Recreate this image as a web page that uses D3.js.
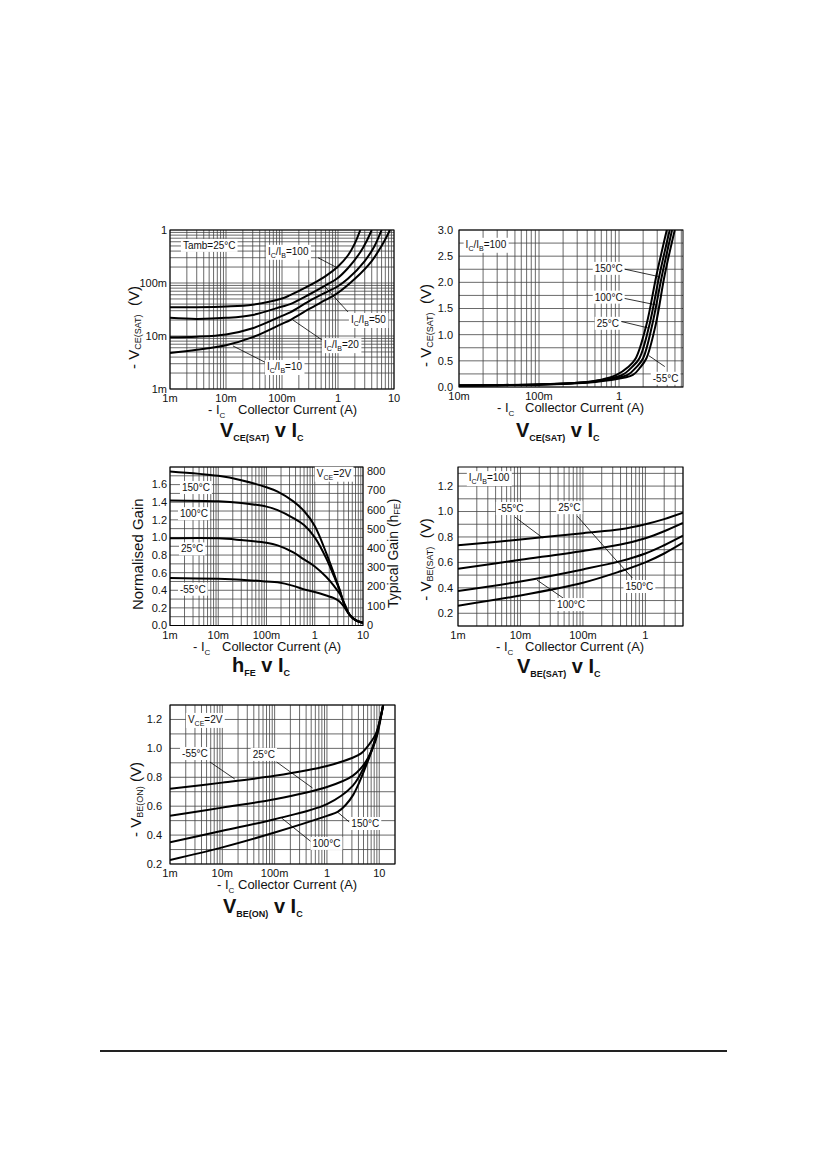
<!DOCTYPE html>
<html>
<head>
<meta charset="utf-8">
<script src="https://cdnjs.cloudflare.com/ajax/libs/d3/7.8.5/d3.min.js"></script>
<style>
  body { margin: 0; background: #fff; }
  svg text { font-family: "Liberation Sans", Arial, sans-serif; fill: #111; white-space: pre; }
</style>
</head>
<body>
<script>
/////////////////////////////////////////////////
// data  (x = -Ic in A)
/////////////////////////////////////////////////
// VCE(SAT) v IC, Tamb = 25C, one series per Ic/Ib
var vceR100 = [[0.001,0.035],[0.003,0.035],[0.01,0.036],[0.03,0.039],[0.1,0.051],[0.14,0.059],[0.3,0.088],[0.6,0.135],[1,0.205],[1.5,0.33],[2,0.56],[2.5,1.0]];
var vceR50  = [[0.001,0.022],[0.003,0.021],[0.01,0.022],[0.03,0.025],[0.1,0.036],[0.14,0.04],[0.3,0.06],[0.6,0.09],[0.95,0.12],[1.5,0.19],[2.5,0.38],[3.2,0.6],[4,1.0]];
var vceR20  = [[0.001,0.0095],[0.003,0.0097],[0.01,0.0107],[0.03,0.014],[0.1,0.024],[0.14,0.028],[0.3,0.045],[0.6,0.066],[0.95,0.084],[1.5,0.12],[3,0.26],[4.5,0.5],[6,1.0]];
var vceR10  = [[0.001,0.0048],[0.003,0.0055],[0.01,0.0067],[0.03,0.0095],[0.1,0.017],[0.14,0.02],[0.3,0.032],[0.6,0.048],[0.95,0.063],[2,0.12],[4,0.26],[6,0.5],[8.5,1.0]];

// VCE(SAT) v IC, Ic/Ib = 100, per temperature
var satT150 = [[0.01,0.03],[0.1,0.05],[0.3,0.08],[0.6,0.14],[0.93,0.23],[1.3,0.38],[1.62,0.55],[2.2,1.19],[2.94,2.14],[3.95,3.0]];
var satT100 = [[0.01,0.03],[0.1,0.05],[0.3,0.08],[0.65,0.14],[1.1,0.23],[1.45,0.38],[1.8,0.55],[2.4,1.19],[3.2,2.14],[4.3,3.0]];
var satT25  = [[0.01,0.03],[0.1,0.05],[0.3,0.075],[0.7,0.14],[1.28,0.23],[1.65,0.38],[2.0,0.55],[2.6,1.19],[3.45,2.14],[4.6,3.0]];
var satTm55 = [[0.01,0.03],[0.1,0.045],[0.3,0.07],[0.75,0.13],[1.49,0.23],[1.85,0.38],[2.2,0.55],[2.87,1.19],[3.72,2.14],[4.97,3.0]];

// hFE v IC, VCE = 2V (normalised gain)
var hfeT150 = [[0.001,1.75],[0.01,1.70],[0.03,1.65],[0.1,1.57],[0.17,1.52],[0.36,1.41],[0.6,1.30],[1,1.13],[1.74,0.82],[2.5,0.59],[3.3,0.40],[4.2,0.22],[5.3,0.12],[7,0.06],[10,0.03]];
var hfeT100 = [[0.001,1.42],[0.01,1.41],[0.03,1.39],[0.1,1.35],[0.17,1.31],[0.36,1.22],[0.6,1.14],[1,1.00],[1.74,0.76],[2.5,0.56],[3.3,0.40],[4.2,0.22],[5.3,0.12],[7,0.06],[10,0.03]];
var hfeT25  = [[0.001,0.99],[0.01,0.99],[0.03,0.97],[0.1,0.94],[0.17,0.91],[0.36,0.83],[0.6,0.75],[1,0.67],[1.74,0.55],[2.5,0.45],[3.3,0.36],[4.2,0.24],[5.3,0.12],[7,0.06],[10,0.03]];
var hfeTm55 = [[0.001,0.54],[0.01,0.53],[0.03,0.52],[0.1,0.50],[0.17,0.49],[0.36,0.45],[0.6,0.41],[1,0.38],[1.74,0.34],[2.5,0.31],[3.3,0.27],[4.2,0.2],[5.3,0.12],[7,0.06],[10,0.03]];

// VBE(SAT) v IC, Ic/Ib = 100
var vbsTm55 = [[0.001,0.735],[0.01,0.78],[0.1,0.83],[0.4,0.86],[1,0.90],[2,0.94],[4,0.99]];
var vbsT25  = [[0.001,0.55],[0.01,0.62],[0.1,0.69],[0.4,0.74],[1,0.79],[2,0.845],[4,0.91]];
var vbsT100 = [[0.001,0.375],[0.01,0.45],[0.1,0.545],[0.4,0.61],[1,0.67],[2,0.735],[4,0.81]];
var vbsT150 = [[0.001,0.26],[0.01,0.34],[0.1,0.44],[0.4,0.53],[1,0.60],[2,0.67],[4,0.755]];

// VBE(ON) v IC, VCE = 2V
var vboTm55 = [[0.001,0.72],[0.01,0.763],[0.1,0.81],[1,0.878],[3.1,0.935],[4.5,0.965],[5.6,1.0],[8.6,1.1],[10.7,1.22],[12,1.31]];
var vboT25  = [[0.001,0.533],[0.01,0.59],[0.1,0.648],[1,0.733],[3.1,0.81],[5.6,0.91],[8.6,1.07],[10.7,1.22],[12,1.31]];
var vboT100 = [[0.001,0.35],[0.01,0.43],[0.1,0.51],[1,0.614],[3.1,0.74],[5.6,0.9],[8.6,1.06],[10.7,1.21],[12,1.31]];
var vboT150 = [[0.001,0.228],[0.01,0.315],[0.1,0.418],[1,0.533],[1.6,0.56],[2.3,0.61],[3.2,0.68],[4.1,0.76],[5.6,0.88],[7.4,1.0],[10.7,1.22],[12,1.31]];

// tick labels
var xTicks4      = [0.001, 0.01, 0.1, 1, 10];
var xTickLbl4    = ["1m", "10m", "100m", "1", "10"];
var xTicks3      = [0.001, 0.01, 0.1, 1];
var xTickLbl3    = ["1m", "10m", "100m", "1"];
var xTicksSat    = [0.01, 0.1, 1];
var xTickLblSat  = ["10m", "100m", "1"];
var yTicksLog    = [0.001, 0.01, 0.1, 1];
var yTickLblLog  = ["1m", "10m", "100m", "1"];
var yTicksSat    = [0, 0.5, 1, 1.5, 2, 2.5, 3];
var yTickLblSat  = ["0.0", "0.5", "1.0", "1.5", "2.0", "2.5", "3.0"];
var yTicksNorm   = [0, 0.2, 0.4, 0.6, 0.8, 1.0, 1.2, 1.4, 1.6];
var yTickLblNorm = ["0.0", "0.2", "0.4", "0.6", "0.8", "1.0", "1.2", "1.4", "1.6"];
var yTicksHfe    = [0, 100, 200, 300, 400, 500, 600, 700, 800];
var yTicksVbe    = [0.2, 0.4, 0.6, 0.8, 1.0, 1.2];
var yTickLblVbe  = ["0.2", "0.4", "0.6", "0.8", "1.0", "1.2"];

/////////////////////////////////////////////////
// annotations (data coords of text start / leader ends)
/////////////////////////////////////////////////
var T  = function(s) { return [[s, 0]]; };
var IcIb = function(n) { return [["I",0],["C",1],["/I",0],["B",1],["=" + n,0]]; };
var Vce2 = [["V",0],["CE",1],["=2V",0]];

var vceNotes = [
  { t: T("Tamb=25°C"), at: [0.0017, 0.44] },
  { t: IcIb(100), at: [0.056, 0.34] },
  { t: IcIb(50),  at: [1.7, 0.0176] },
  { t: IcIb(20),  at: [0.56, 0.0059] },
  { t: IcIb(10),  at: [0.054, 0.00228] }
];
var vceLeaders = [
  [[0.44, 0.30], [1.0, 0.19]],
  [[1.51, 0.0284], [0.59, 0.084]],
  [[0.52, 0.0084], [0.157, 0.020]],
  [[0.0497, 0.0032], [0.0133, 0.0065]]
];
var satNotes = [
  { t: IcIb(100), at: [0.0121, 2.66] },
  { t: T("150°C"), at: [0.497, 2.2] },
  { t: T("100°C"), at: [0.497, 1.65] },
  { t: T("25°C"),  at: [0.526, 1.15] },
  { t: T("-55°C"), at: [2.64, 0.10] }
];
var satLeaders = [
  [[1.11, 2.26], [3.13, 2.11]],
  [[1.11, 1.70], [2.88, 1.57]],
  [[1.08, 1.25], [2.29, 1.13]],
  [[3.73, 0.39], [2.35, 0.60]]
];
var hfeNotes = [
  { t: Vce2, at: [1.1, 1.69] },
  { t: T("150°C"), at: [0.00177, 1.527] },
  { t: T("100°C"), at: [0.00161, 1.23] },
  { t: T("25°C"),  at: [0.00169, 0.83] },
  { t: T("-55°C"), at: [0.00161, 0.373] }
];
var vbsNotes = [
  { t: IcIb(100), at: [0.00149, 1.239] },
  { t: T("-55°C"), at: [0.00435, 0.996] },
  { t: T("25°C"),  at: [0.0401, 1.003] },
  { t: T("150°C"), at: [0.479, 0.383] },
  { t: T("100°C"), at: [0.0386, 0.241] }
];
var vbsLeaders = [
  [[0.00817, 0.956], [0.023, 0.791]],
  [[0.081, 0.964], [0.296, 0.65]],
  [[0.62, 0.477], [0.296, 0.65]],
  [[0.0482, 0.32], [0.0184, 0.461]]
];
var vboNotes = [
  { t: Vce2, at: [0.0022, 1.176] },
  { t: T("-55°C"), at: [0.0017, 0.94] },
  { t: T("25°C"),  at: [0.038, 0.934] },
  { t: T("150°C"), at: [2.93, 0.456] },
  { t: T("100°C"), at: [0.53, 0.318] }
];
var vboLeaders = [
  [[0.00578, 0.906], [0.0173, 0.788]],
  [[0.109, 0.906], [0.53, 0.726]],
  [[2.68, 0.49], [1.585, 0.56]],
  [[0.507, 0.352], [0.136, 0.518]]
];

/////////////////////////////////////////////////
// chart layout
/////////////////////////////////////////////////
var charts = [
  { left: 170, top: 230, width: 224, height: 159,
    xDomain: [0.001, 10], yDomain: [0.001, 1], yLog: true,
    xTicks: xTicks4, xLbl: xTickLbl4, yTicks: yTicksLog, yLbl: yTickLblLog, yPad: 3,
    series: [vceR100, vceR50, vceR20, vceR10], notes: vceNotes, leaders: vceLeaders,
    yTitle: [["- V",0],["CE(SAT)",1],["  (V)",0]], yTitleDx: -31, yTitleDy: 18,
    xDx: [38, 68], title: [["V",0],["CE(SAT)",1],[" v I",0],["C",1]], titleDx: 50, titleDy: 48 },
  { left: 459, top: 230, width: 224, height: 157,
    xDomain: [0.01, 6.3], yDomain: [0, 3], yStep: 0.25,
    xTicks: xTicksSat, xLbl: xTickLblSat, yTicks: yTicksSat, yLbl: yTickLblSat, yPad: 6,
    series: [satT150, satT100, satT25, satTm55], notes: satNotes, leaders: satLeaders,
    yTitle: [["- V",0],["CE(SAT)",1],["  (V)",0]], yTitleDx: -28, yTitleDy: 17,
    xDx: [38, 66], title: [["V",0],["CE(SAT)",1],[" v I",0],["C",1]], titleDx: 57, titleDy: 50 },
  { left: 170, top: 467, width: 193, height: 158.5,
    xDomain: [0.001, 10], yDomain: [0, 1.8], yStep: 0.1,
    xTicks: xTicks4, xLbl: xTickLbl4, yTicks: yTicksNorm, yLbl: yTickLblNorm, yPad: 3,
    right: { domain: [0, 825], ticks: yTicksHfe, title: [["Typical Gain (h",0],["FE",1],[")",0]], dx: 35, dy: 7 },
    series: [hfeT150, hfeT100, hfeT25, hfeTm55], notes: hfeNotes, leaders: [],
    yTitle: [["Normalised Gain",0]], yTitleDx: -27, yTitleDy: 8,
    xDx: [23, 52], title: [["h",0],["FE",1],[" v I",0],["C",1]], titleDx: 62, titleDy: 46 },
  { left: 458, top: 467, width: 225, height: 159,
    xDomain: [0.001, 4], yDomain: [0.1, 1.35], yStep: 0.1,
    xTicks: xTicks3, xLbl: xTickLbl3, yTicks: yTicksVbe, yLbl: yTickLblVbe, yPad: 5,
    series: [vbsTm55, vbsT25, vbsT100, vbsT150], notes: vbsNotes, leaders: vbsLeaders,
    yTitle: [["- V",0],["BE(SAT)",1],["  (V)",0]], yTitleDx: -27, yTitleDy: 13,
    xDx: [38, 67], title: [["V",0],["BE(SAT)",1],[" v I",0],["C",1]], titleDx: 59, titleDy: 47 },
  { left: 170, top: 705, width: 225, height: 159,
    xDomain: [0.001, 20], yDomain: [0.2, 1.3], yStep: 0.1,
    xTicks: xTicks4, xLbl: xTickLbl4, yTicks: yTicksVbe, yLbl: yTickLblVbe, yPad: 8,
    series: [vboTm55, vboT25, vboT100, vboT150], notes: vboNotes, leaders: vboLeaders,
    yTitle: [["- V",0],["BE(ON)",1],[" (V)",0]], yTitleDx: -29, yTitleDy: 15,
    xDx: [47, 68], title: [["V",0],["BE(ON)",1],[" v I",0],["C",1]], titleDx: 53, titleDy: 49 }
];

/////////////////////////////////////////////////
// helpers
/////////////////////////////////////////////////
var svg = d3.select("body").append("svg")
    .attr("width", 826)
    .attr("height", 1169);

svg.append("rect").attr("width", 826).attr("height", 1169).attr("fill", "#fff");

// 1..9 x 10^n inside the domain
function logGrid(domain) {
  var out = [];
  var n0 = Math.floor(Math.log10(domain[0])), n1 = Math.ceil(Math.log10(domain[1]));
  for (var n = n0; n <= n1; n++) {
    for (var k = 1; k <= 9; k++) {
      var v = +(k * Math.pow(10, n)).toPrecision(6);
      if (v >= domain[0] * 0.9999 && v <= domain[1] * 1.0001) out.push(v);
    }
  }
  return out;
}

// text with subscripts; parts = [[string, isSub], ...]
function richText(sel, parts, size, subSize, subShift) {
  var shift = 0;
  parts.forEach(function(p) {
    var s = p[1] ? subShift : 0;
    sel.append("tspan")
      .attr("font-size", p[1] ? subSize : size)
      .attr("dy", s - shift)
      .text(p[0]);
    shift = s;
  });
  return sel;
}

var clipId = 0;

function drawChart(c) {
  var g = svg.append("g");
  var x = d3.scaleLog().domain(c.xDomain).range([c.left, c.left + c.width]);
  var y = (c.yLog ? d3.scaleLog() : d3.scaleLinear())
      .domain(c.yDomain).range([c.top + c.height, c.top]);

  var yGrid = c.yLog ? logGrid(c.yDomain)
      : d3.range(c.yDomain[0], c.yDomain[1] + 1e-6, c.yStep);

  // grid
  var grid = g.append("g")
      .attr("stroke", "#444")
      .attr("stroke-width", 0.8);
  grid.selectAll("line.v").data(logGrid(c.xDomain)).join("line")
      .attr("class", "v")
      .attr("x1", function(d) { return x(d); })
      .attr("x2", function(d) { return x(d); })
      .attr("y1", c.top).attr("y2", c.top + c.height);
  grid.selectAll("line.h").data(yGrid).join("line")
      .attr("class", "h")
      .attr("y1", function(d) { return y(d); })
      .attr("y2", function(d) { return y(d); })
      .attr("x1", c.left).attr("x2", c.left + c.width);

  // curves
  var id = "clip" + (clipId++);
  svg.append("clipPath").attr("id", id).append("rect")
      .attr("x", c.left).attr("y", c.top)
      .attr("width", c.width).attr("height", c.height);

  var line = d3.line()
      .x(function(d) { return x(d[0]); })
      .y(function(d) { return y(d[1]); })
      .curve(d3.curveCatmullRom.alpha(0.5));

  g.append("g").attr("clip-path", "url(#" + id + ")")
    .selectAll("path").data(c.series).join("path")
      .attr("d", line)
      .attr("fill", "none")
      .attr("stroke", "#000")
      .attr("stroke-width", 2)
      .attr("stroke-linejoin", "round");

  // frame
  g.append("rect")
      .attr("x", c.left).attr("y", c.top)
      .attr("width", c.width).attr("height", c.height)
      .attr("fill", "none").attr("stroke", "#000").attr("stroke-width", 1);

  // tick labels
  g.append("g").selectAll("text").data(c.xTicks).join("text")
      .attr("x", function(d) { return x(d); })
      .attr("y", c.top + c.height + 13)
      .attr("text-anchor", "middle")
      .attr("font-size", 11)
      .text(function(d, i) { return c.xLbl[i]; });

  g.append("g").selectAll("text").data(c.yTicks).join("text")
      .attr("x", c.left - c.yPad)
      .attr("y", function(d) { return y(d); })
      .attr("dy", "0.35em")
      .attr("text-anchor", "end")
      .attr("font-size", 11)
      .text(function(d, i) { return c.yLbl[i]; });

  if (c.right) {
    var y2 = d3.scaleLinear().domain(c.right.domain).range([c.top + c.height, c.top]);
    g.append("g").selectAll("text").data(c.right.ticks).join("text")
        .attr("x", c.left + c.width + 4)
        .attr("y", function(d) { return y2(d); })
        .attr("dy", "0.3em")
        .attr("font-size", 11)
        .text(function(d) { return d; });
    richText(g.append("text")
        .attr("text-anchor", "middle")
        .attr("transform", "translate(" + (c.left + c.width + c.right.dx) + "," +
              (c.top + c.height / 2 + c.right.dy) + ") rotate(-90)"),
        c.right.title, 14, 9, 2);
  }

  // axis titles
  richText(g.append("text")
      .attr("text-anchor", "middle")
      .attr("transform", "translate(" + (c.left + c.yTitleDx) + "," +
            (c.top + c.height / 2 + c.yTitleDy) + ") rotate(-90)"),
      c.yTitle, 15, 9, 2);

  richText(g.append("text")
      .attr("x", c.left + c.xDx[0])
      .attr("y", c.top + c.height + 25),
      [["- I",0],["C",1]], 13, 8, 4);
  g.append("text")
      .attr("x", c.left + c.xDx[1])
      .attr("y", c.top + c.height + 25)
      .attr("font-size", 13)
      .text("Collector Current (A)");

  richText(g.append("text")
      .attr("x", c.left + c.titleDx)
      .attr("y", c.top + c.height + c.titleDy)
      .attr("font-weight", "bold"),
      c.title, 20, 9, 4);

  // leaders
  g.append("g").selectAll("line").data(c.leaders).join("line")
      .attr("x1", function(d) { return x(d[0][0]); })
      .attr("y1", function(d) { return y(d[0][1]); })
      .attr("x2", function(d) { return x(d[1][0]); })
      .attr("y2", function(d) { return y(d[1][1]); })
      .attr("stroke", "#000")
      .attr("stroke-width", 0.8);

  // boxed notes
  c.notes.forEach(function(n) {
    var ng = g.append("g");
    var t = richText(ng.append("text")
        .attr("x", x(n.at[0]))
        .attr("y", y(n.at[1])), n.t, 10, 7, 3);
    var b = t.node().getBBox();
    ng.insert("rect", "text")
        .attr("x", b.x - 2).attr("y", b.y - 1)
        .attr("width", b.width + 4).attr("height", b.height + 2)
        .attr("fill", "#fff");
  });
}

charts.forEach(drawChart);

// page rule at the bottom
svg.append("line")
    .attr("x1", 100).attr("x2", 727)
    .attr("y1", 1051).attr("y2", 1051)
    .attr("stroke", "#222")
    .attr("stroke-width", 2);
</script>
</body>
</html>
